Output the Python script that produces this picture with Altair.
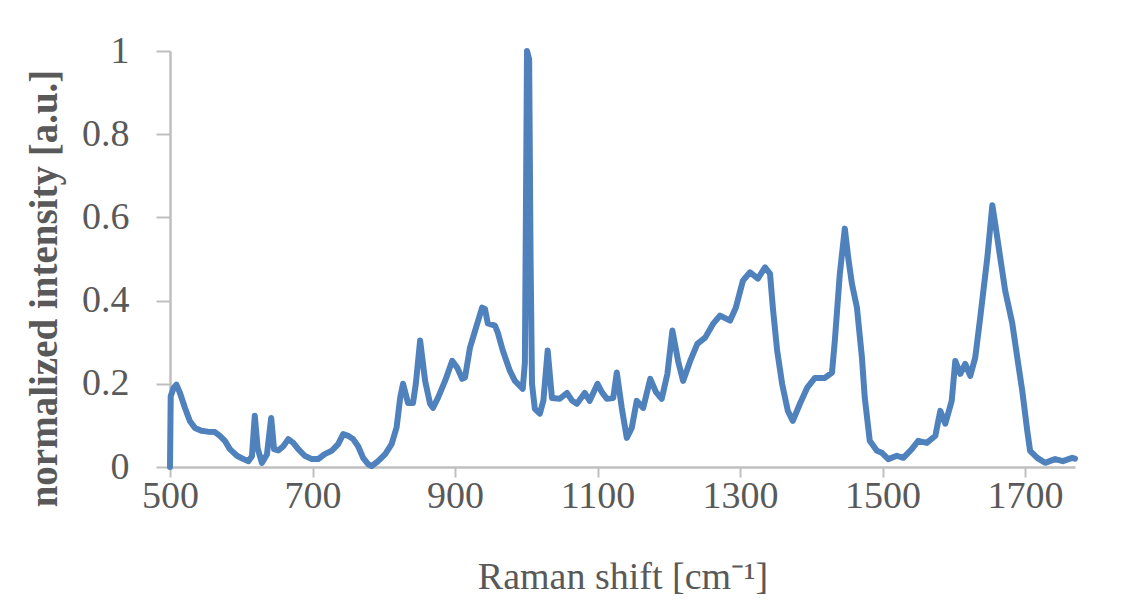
import altair as alt
import pandas as pd

raman_shift = [
    500, 501, 505, 509, 514, 521, 528, 535, 544, 553, 563, 570, 577, 584, 594,
    603, 610, 615, 619, 623, 629, 636, 642, 646, 652, 659, 666, 673, 680, 689,
    699, 708, 717, 727, 736, 743, 750, 757, 764, 771, 778, 783, 792, 802, 811,
    818, 823, 827, 834, 841, 845, 851, 858, 865, 869, 876, 886, 896, 903, 910,
    914, 921, 931, 938, 942, 946, 956, 960, 967, 977, 984, 991, 995, 998, 1001,
    1004, 1006, 1008, 1012, 1019, 1024, 1030, 1036, 1047, 1057, 1064, 1071, 1082,
    1089, 1100, 1106, 1113, 1122, 1127, 1134, 1141, 1148, 1155, 1164, 1174, 1182,
    1190, 1198, 1205, 1213, 1220, 1230, 1240, 1251, 1262, 1272, 1286, 1294, 1304,
    1314, 1325, 1335, 1342, 1346, 1352, 1359, 1367, 1374, 1384, 1394, 1405, 1419,
    1429, 1433, 1440, 1447, 1452, 1457, 1464, 1471, 1475, 1482, 1492, 1499, 1508,
    1520, 1529, 1541, 1550, 1562, 1574, 1581, 1588, 1597, 1602, 1609, 1616, 1623,
    1630, 1637, 1647, 1654, 1658, 1665, 1672, 1682, 1689, 1696, 1703, 1707, 1717,
    1728, 1742, 1753, 1766, 1770,
]
intensity = [
    0.0, 0.17, 0.19, 0.198, 0.178, 0.142, 0.11, 0.094, 0.087, 0.085, 0.084, 0.075,
    0.063, 0.043, 0.027, 0.019, 0.014, 0.026, 0.123, 0.045, 0.01, 0.03, 0.118,
    0.043, 0.04, 0.05, 0.067, 0.058, 0.043, 0.027, 0.019, 0.019, 0.031, 0.039,
    0.055, 0.079, 0.075, 0.067, 0.05, 0.022, 0.007, 0.002, 0.014, 0.031, 0.055,
    0.095, 0.166, 0.2, 0.154, 0.154, 0.2, 0.304, 0.207, 0.152, 0.142, 0.166,
    0.207, 0.255, 0.239, 0.212, 0.215, 0.287, 0.344, 0.383, 0.38, 0.345, 0.34,
    0.323, 0.28, 0.231, 0.207, 0.195, 0.188, 0.25, 1.0, 0.98, 0.5, 0.2, 0.14,
    0.128, 0.16, 0.28, 0.166, 0.164, 0.178, 0.16, 0.152, 0.178, 0.159, 0.2, 0.18,
    0.164, 0.166, 0.227, 0.142, 0.07, 0.094, 0.159, 0.142, 0.212, 0.18, 0.164,
    0.224, 0.328, 0.255, 0.207, 0.255, 0.296, 0.311, 0.344, 0.364, 0.352, 0.383,
    0.448, 0.468, 0.453, 0.48, 0.465, 0.383, 0.28, 0.2, 0.135, 0.111, 0.152, 0.19,
    0.214, 0.214, 0.227, 0.304, 0.465, 0.573, 0.5, 0.44, 0.383, 0.263, 0.166,
    0.063, 0.039, 0.034, 0.019, 0.027, 0.022, 0.043, 0.063, 0.058, 0.075, 0.135,
    0.104, 0.159, 0.255, 0.224, 0.248, 0.219, 0.263, 0.359, 0.504, 0.629, 0.585,
    0.504, 0.424, 0.345, 0.263, 0.183, 0.087, 0.039, 0.022, 0.01, 0.019, 0.014,
    0.022, 0.02,
]
x_ticks = [500, 700, 900, 1100, 1300, 1500, 1700]
y_ticks = [0, 0.2, 0.4, 0.6, 0.8, 1]

df = pd.DataFrame({"shift": raman_shift, "intensity": intensity})

FONT = "Liberation Serif"
GRAY_TEXT = "#595959"
AXIS_GRAY = "#BFBFBF"

chart = (
    alt.Chart(df)
    .mark_line(color="#4F81BD", strokeWidth=6, strokeJoin="round", strokeCap="round")
    .encode(
        x=alt.X(
            "shift:Q",
            scale=alt.Scale(domain=[500, 1770], nice=False, zero=False),
            axis=alt.Axis(
                values=x_ticks,
                title="Raman shift [cm⁻¹]",
                format="d",
                tickSize=10,
                labelPadding=0,
                labelFlush=False,
                titleY=110,
                titleBaseline="middle",
                titleFontWeight="normal",
                titleFontSize=38,
            ),
        ),
        y=alt.Y(
            "intensity:Q",
            scale=alt.Scale(domain=[0, 1], nice=False),
            axis=alt.Axis(
                values=y_ticks,
                title="normalized intensity [a.u.]",
                labelExpr="format(datum.value, '')",
                tickSize=14,
                labelPadding=27,
                labelFlush=False,
                titleX=-126,
                titleY=237,
                titleAngle=270,
                titleAlign="center",
                titleBaseline="middle",
                titleFontWeight="bold",
                titleFontSize=39,
            ),
        ),
    )
    .properties(
        width=905,
        height=416,
        autosize=alt.AutoSizeParams(type="none"),
        padding={"left": 162, "top": 43, "right": 60, "bottom": 138},
    )
    .configure_view(stroke=None)
    .configure_axis(
        grid=False,
        domainColor=AXIS_GRAY,
        domainWidth=2.5,
        tickColor=AXIS_GRAY,
        tickWidth=2,
        labelFont=FONT,
        labelFontSize=38,
        labelColor=GRAY_TEXT,
        titleFont=FONT,
        titleColor=GRAY_TEXT,
    )
)

chart.save("out.html", embed_options={"renderer": "svg", "actions": False})
